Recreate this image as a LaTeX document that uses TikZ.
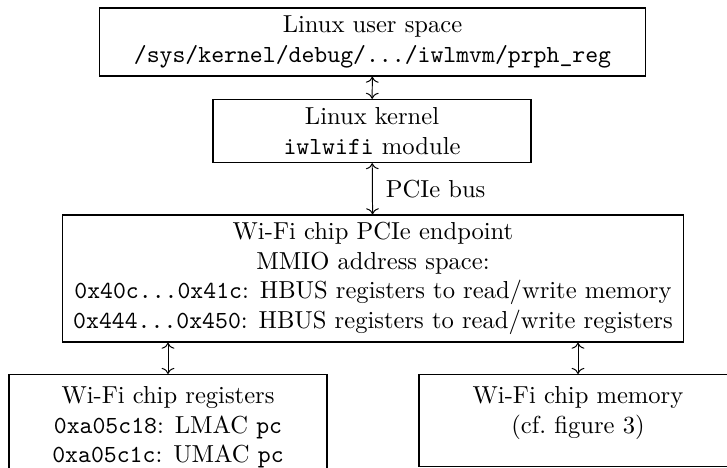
\documentclass[tikz,border=0pt]{standalone}
\usetikzlibrary{arrows.meta}
\begin{document}
\begin{tikzpicture}[x=0.407pt,y=-0.407pt,
  box/.style={draw,line width=0.5pt,align=center,inner sep=0pt},
  frame/.style={draw,line width=0.5pt,inner sep=0pt},
  txt/.style={align=center,inner sep=0pt},
  link/.style={<->,line width=0.4pt}]
\useasboundingbox (0,0) rectangle (727,468);
\node[box,minimum width=546*0.407pt,minimum height=68*0.407pt] (user) at (372.5,42)
  {Linux user space\\\texttt{/sys/kernel/debug/.../iwlmvm/prph\_reg}};
\node[box,minimum width=318*0.407pt,minimum height=63*0.407pt] (kern) at (372,131)
  {Linux kernel\\\texttt{iwlwifi} module};
\node[box,minimum width=621*0.407pt,minimum height=127*0.407pt] (pcie) at (373,278.5)
  {Wi-Fi chip PCIe endpoint\\MMIO address space:\\
   \texttt{0x40c...0x41c}: HBUS registers to read/write memory\\
   \texttt{0x444...0x450}: HBUS registers to read/write registers};
\node[frame,minimum width=318*0.407pt,minimum height=102*0.407pt,anchor=north] (regs) at (168,374) {};
\node[txt,anchor=north] (regstxt) at ([yshift=-5pt]regs.north)
  {Wi-Fi chip registers\\\texttt{0xa05c18}: LMAC \texttt{pc}\\\texttt{0xa05c1c}: UMAC \texttt{pc}};
\node[frame,minimum width=318*0.407pt,minimum height=92*0.407pt,anchor=north] (mem) at (578,374) {};
\node[txt,anchor=north] (memtxt) at ([yshift=-5pt]mem.north)
  {Wi-Fi chip memory\\(cf.\ figure 3)};
\draw[link] (user) -- (kern);
\draw[link] (kern) -- node[right,xshift=2pt] {PCIe bus} (pcie);
\draw[link] (pcie.south -| regs.north) -- (regs.north);
\draw[link] (pcie.south -| mem.north) -- (mem.north);
\end{tikzpicture}
\end{document}
